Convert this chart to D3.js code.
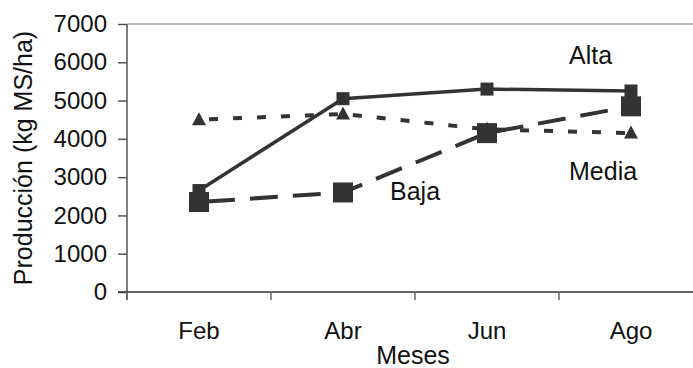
<!DOCTYPE html>
<html>
<head>
<meta charset="utf-8">
<script src="https://cdn.jsdelivr.net/npm/d3@7"></script>
<style>
  html, body { margin: 0; padding: 0; background: #fff; }
  svg { display: block; font-family: "Liberation Sans", Arial, sans-serif; }
</style>
</head>
<body>
<svg id="chart" width="693" height="368"></svg>
<script>
// Monthly forage production by grazing intensity
const months = ["Feb", "Abr", "Jun", "Ago"];
const alta  = [2650, 5050, 5300, 5250];
const media = [4500, 4650, 4250, 4150];
const baja  = [2350, 2600, 4150, 4850];
const yTicks = [0, 1000, 2000, 3000, 4000, 5000, 6000, 7000];

const svg = d3.select("#chart");
const margin = { left: 127, top: 24, bottom: 76 };
const plotW = 576;                       // four month bands
const plotH = 368 - margin.top - margin.bottom;

const x = d3.scaleBand().domain(months).range([margin.left, margin.left + plotW]);
const y = d3.scaleLinear().domain([0, 7000]).range([margin.top + plotH, margin.top]);
const ink = "#333333";

// top frame line
svg.append("line")
  .attr("x1", margin.left).attr("x2", margin.left + plotW)
  .attr("y1", y(7000)).attr("y2", y(7000))
  .attr("stroke", "#a0a0a0").attr("stroke-width", 1.5);

// y axis
const yAxis = svg.append("g")
  .attr("transform", `translate(${margin.left},0)`)
  .call(d3.axisLeft(y).tickValues(yTicks).tickSize(9).tickPadding(11).tickFormat(d3.format("d")));
yAxis.select(".domain").attr("d", `M0,${y(7000)}V${y(0) + 8}`).attr("stroke", "#555").attr("stroke-width", 1.5);
yAxis.selectAll(".tick line").attr("stroke", "#555").attr("stroke-width", 1.5);
yAxis.selectAll(".tick text").attr("font-size", 24).attr("fill", "#111")
  .attr("font-family", "Liberation Sans, Arial, sans-serif");

// x axis: ticks sit on the band boundaries
const bounds = months.map(m => x(m)).concat([x(months[months.length - 1]) + x.bandwidth()]);
const xg = svg.append("g");
xg.append("line")
  .attr("x1", margin.left - 9).attr("x2", margin.left + plotW)
  .attr("y1", y(0)).attr("y2", y(0))
  .attr("stroke", ink).attr("stroke-width", 1.5);
xg.selectAll("line.tk").data(bounds).join("line").attr("class", "tk")
  .attr("x1", d => d).attr("x2", d => d)
  .attr("y1", y(0)).attr("y2", y(0) + 8)
  .attr("stroke", "#666").attr("stroke-width", 1.5);
xg.selectAll("text").data(months).join("text")
  .attr("x", d => x(d) + x.bandwidth() / 2)
  .attr("y", 339)
  .attr("text-anchor", "middle")
  .attr("font-size", 24).attr("fill", "#111")
  .text(d => d);

// axis titles
svg.append("text")
  .attr("x", margin.left + plotW / 2 - 2).attr("y", 364)
  .attr("text-anchor", "middle").attr("font-size", 25).attr("fill", "#111")
  .text("Meses");
svg.append("text")
  .attr("transform", `translate(32,${(y(0) + y(7000)) / 2}) rotate(-90)`)
  .attr("text-anchor", "middle").attr("font-size", 25).attr("fill", "#111")
  .text("Producción (kg MS/ha)");

const cx = d => x(d) + x.bandwidth() / 2;
const line = d3.line().x(d => cx(d[0])).y(d => y(d[1]));
const pairs = arr => months.map((m, i) => [m, arr[i]]);

// Alta: solid line with small squares
svg.append("path").datum(pairs(alta)).attr("d", line)
  .attr("fill", "none").attr("stroke", ink).attr("stroke-width", 3.5);
svg.selectAll("rect.alta").data(pairs(alta)).join("rect").attr("class", "alta")
  .attr("x", d => cx(d[0]) - 6.5).attr("y", d => y(d[1]) - 6.5)
  .attr("width", 13).attr("height", 13).attr("fill", ink);

// Media: dotted line with triangles
svg.append("path").datum(pairs(media)).attr("d", line)
  .attr("fill", "none").attr("stroke", ink).attr("stroke-width", 4)
  .attr("stroke-dasharray", "9,15").attr("stroke-dashoffset", -10);
svg.selectAll("path.media").data(pairs(media)).join("path").attr("class", "media")
  .attr("transform", d => `translate(${cx(d[0])},${y(d[1])})`)
  .attr("d", "M0,-7.5L7,5.5L-7,5.5Z").attr("fill", ink);

// Baja: dashed line with large squares
svg.append("path").datum(pairs(baja)).attr("d", line)
  .attr("fill", "none").attr("stroke", ink).attr("stroke-width", 4)
  .attr("stroke-dasharray", "28,15").attr("stroke-dashoffset", -8);
svg.selectAll("rect.baja").data(pairs(baja)).join("rect").attr("class", "baja")
  .attr("x", d => cx(d[0]) - 10).attr("y", d => y(d[1]) - 10)
  .attr("width", 20).attr("height", 20).attr("fill", ink);

// series labels
const labels = [
  { t: "Alta", x: 569, y: 64 },
  { t: "Media", x: 569, y: 180 },
  { t: "Baja", x: 390, y: 200 }
];
svg.selectAll("text.lab").data(labels).join("text").attr("class", "lab")
  .attr("x", d => d.x).attr("y", d => d.y)
  .attr("font-size", 25).attr("fill", "#111")
  .text(d => d.t);
</script>
</body>
</html>
